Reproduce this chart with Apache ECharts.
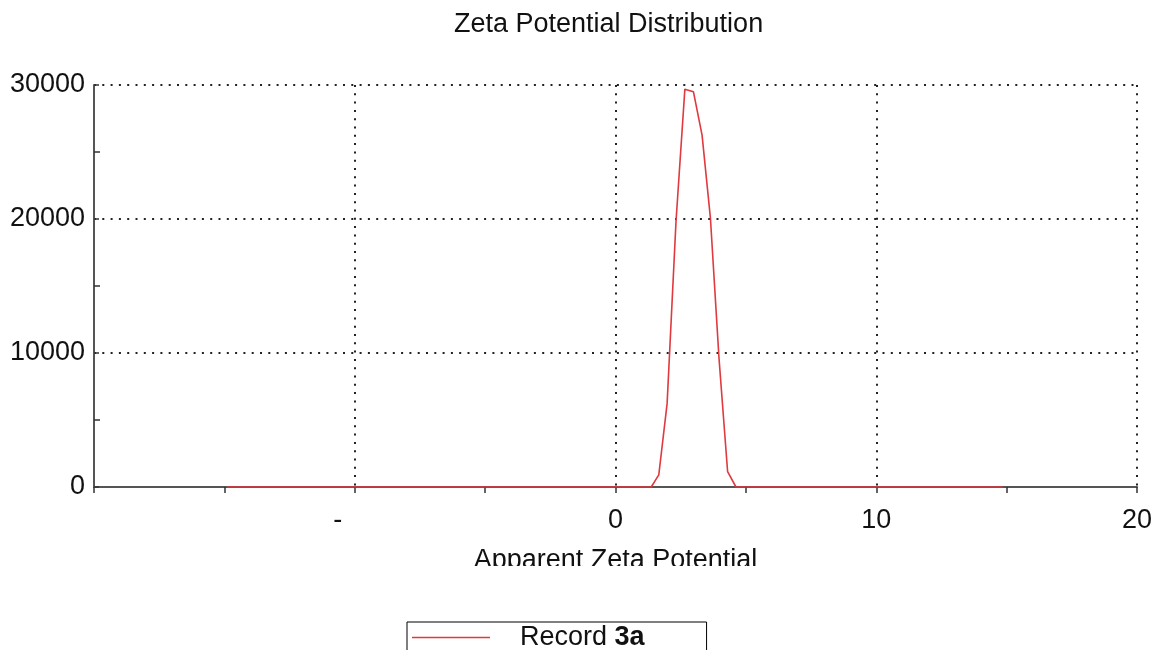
<!DOCTYPE html>
<html>
<head>
<meta charset="utf-8">
<script src="https://cdn.jsdelivr.net/npm/echarts@6/dist/echarts.min.js"></script>
<style>
  html, body { margin: 0; padding: 0; background: #fff; }
  #chart { width: 1157px; height: 650px; }
</style>
</head>
<body>
<div id="chart"></div>
<script>
// apparent zeta potential (x) and counts (y)
const zetaX = [-14.9, 1.37, 1.66, 1.98, 2.32, 2.66, 2.99, 3.32, 3.64, 3.97, 4.30, 4.62, 14.85]
const counts = [0, 0, 900, 6240, 19800, 29690, 29490, 26260, 20070, 9600, 1140, 0, 0]
const seriesName = 'Record 3a'

const FONT = '"Liberation Sans", Arial, sans-serif'
const RED = '#e0393e'
const dotted = { color: '#222', width: 2, type: [2, 6.3] }

const chart = echarts.init(document.getElementById('chart'))

chart.setOption({
  animation: false,
  textStyle: { fontFamily: FONT },
  title: {
    text: 'Zeta Potential Distribution',
    left: 449,
    top: 6,
    textStyle: { fontSize: 27, fontWeight: 'normal', color: '#111', fontFamily: FONT }
  },
  grid: { left: 94, right: 20, top: 85, bottom: 163 },
  xAxis: {
    type: 'value',
    min: -20,
    max: 20,
    interval: 10,
    name: 'Apparent Zeta Potential',
    nameLocation: 'middle',
    nameGap: 60,
    nameTextStyle: { fontSize: 27, color: '#111', fontFamily: FONT },
    axisLine: { onZero: false, lineStyle: { color: '#555', width: 2 } },
    axisTick: { show: true, length: 6, lineStyle: { color: '#333', width: 1.5 } },
    minorTick: { show: true, splitNumber: 2, length: 6, lineStyle: { color: '#333', width: 1.5 } },
    splitLine: { show: true, lineStyle: dotted },
    axisLabel: {
      fontSize: 27,
      color: '#111',
      margin: 20,
      showMinLabel: false,
      formatter: v => (v === -10 ? '{m|-}' : String(v)),
      rich: { m: { fontSize: 27, color: '#111', padding: [0, 34, 0, 0] } }
    }
  },
  yAxis: {
    type: 'value',
    min: 0,
    max: 30000,
    interval: 10000,
    axisLine: { show: true, onZero: false, lineStyle: { color: '#555', width: 2 } },
    axisTick: { show: true, inside: true, length: 5, lineStyle: { color: '#333', width: 1.5 } },
    minorTick: { show: true, splitNumber: 2, length: 6, lineStyle: { color: '#333', width: 1.5 } },
    splitLine: { show: true, lineStyle: dotted },
    axisLabel: { fontSize: 27, color: '#111', margin: 9, padding: [8, 0, 0, 0], formatter: v => String(v) }
  },
  legend: {
    left: 407,
    top: 622,
    padding: [2, 62, 20, 5],
    borderColor: '#000',
    borderWidth: 1,
    icon: 'rect',
    itemWidth: 78,
    itemHeight: 1.5,
    itemGap: 0,
    formatter: name => {
      const parts = name.split(' ')
      return '{n|' + parts[0] + ' }{b|' + parts[1] + '}'
    },
    textStyle: {
      padding: [0, 0, 0, 25],
      rich: {
        n: { fontSize: 27, color: '#111', fontFamily: FONT, lineHeight: 28 },
        b: { fontSize: 27, color: '#111', fontWeight: 'bold', fontFamily: FONT, lineHeight: 28 }
      }
    },
    data: [seriesName]
  },
  graphic: [
    {
      type: 'rect',
      left: 420,
      top: 566,
      z: 100,
      shape: { width: 420, height: 40 },
      style: { fill: '#fff' }
    }
  ],
  series: [
    {
      name: seriesName,
      type: 'line',
      data: zetaX.map((x, i) => [x, counts[i]]),
      showSymbol: false,
      lineStyle: { color: RED, width: 1.6 },
      itemStyle: { color: RED }
    }
  ]
})
</script>
</body>
</html>
